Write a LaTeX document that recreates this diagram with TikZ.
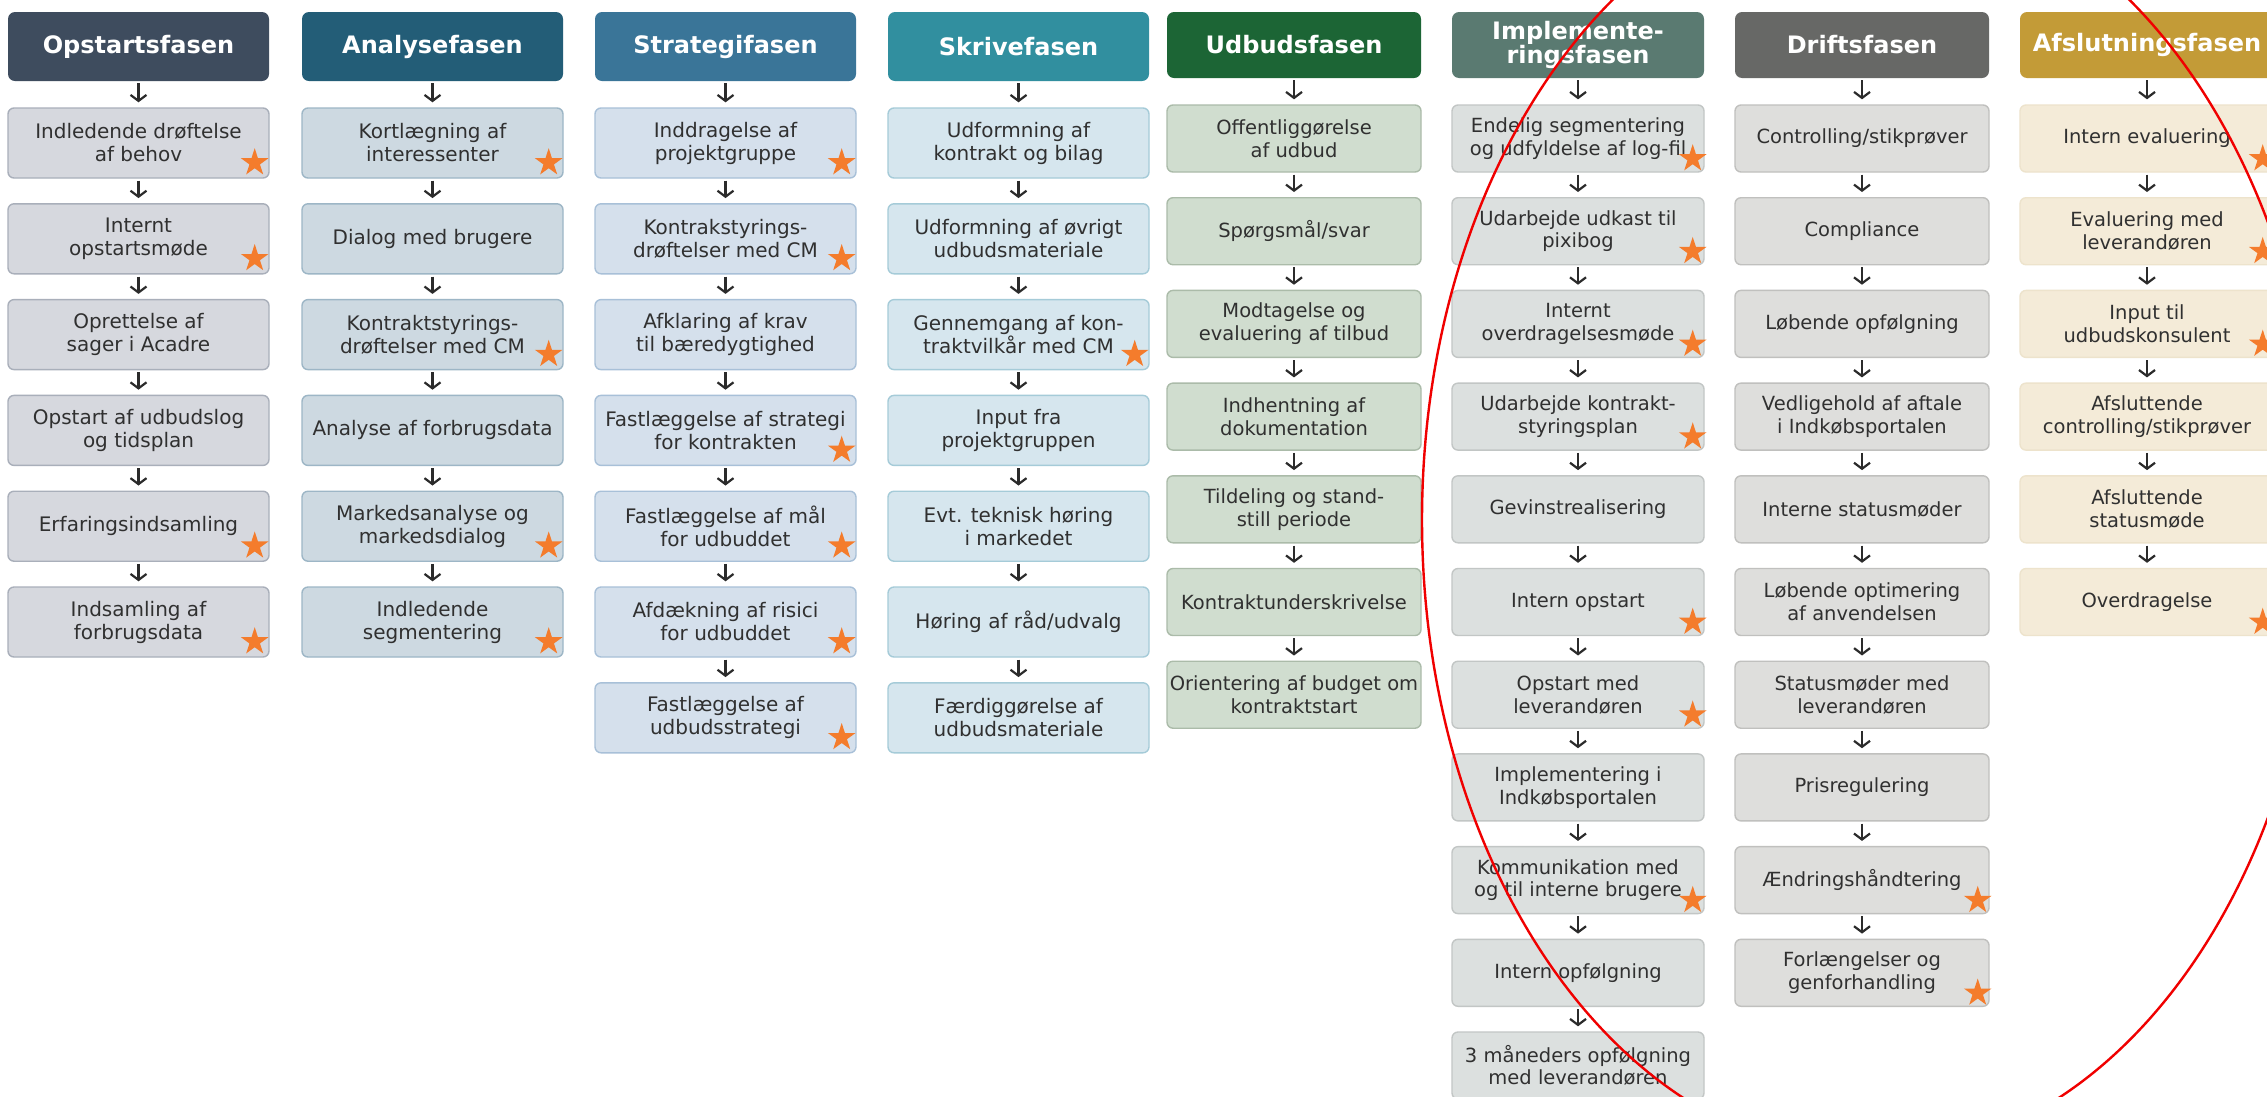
\documentclass[tikz,border=0pt]{standalone}
\usepackage{fontspec}
\setmainfont{DejaVu Sans}
\usetikzlibrary{shapes.geometric,arrows.meta}

% phase colours: H = header, F = box fill, B = box border
\definecolor{c1H}{HTML}{3E4C5E}\definecolor{c1F}{HTML}{D6D8DE}\definecolor{c1B}{HTML}{A9AFBA}
\definecolor{c2H}{HTML}{235D77}\definecolor{c2F}{HTML}{CDD9E1}\definecolor{c2B}{HTML}{9DB6C6}
\definecolor{c3H}{HTML}{3A7598}\definecolor{c3F}{HTML}{D5E0EC}\definecolor{c3B}{HTML}{A8C0D8}
\definecolor{c4H}{HTML}{318F9F}\definecolor{c4F}{HTML}{D6E6EE}\definecolor{c4B}{HTML}{A5CBD8}
\definecolor{c5H}{HTML}{1C6535}\definecolor{c5F}{HTML}{D0DDCF}\definecolor{c5B}{HTML}{ABBBA9}
\definecolor{c6H}{HTML}{5A7A71}\definecolor{c6F}{HTML}{DCE0DF}\definecolor{c6B}{HTML}{C2C6C5}
\definecolor{c7H}{HTML}{676866}\definecolor{c7F}{HTML}{DEDEDC}\definecolor{c7B}{HTML}{C0C0BE}
\definecolor{c8H}{HTML}{C39B37}\definecolor{c8F}{HTML}{F4EBD8}\definecolor{c8B}{HTML}{EDE3CC}
\definecolor{arrowc}{HTML}{2B2B2B}
\definecolor{txtc}{HTML}{303030}
\definecolor{starc}{HTML}{F47C2C}
\definecolor{ringc}{HTML}{F00000}

\tikzset{
  hdr/.style={rounded corners=7pt, text=white, align=center, inner sep=0pt,
    font=\bfseries\fontsize{24}{23}\selectfont},
  stepbox/.style={rounded corners=6pt, line width=1.4pt, text=txtc, align=center,
    inner sep=0pt, font=\boxfont},
  conn/.style={draw=arrowc, line width=2.2pt, shorten <=2pt, shorten >=5pt,
    -{Straight Barb[length=6pt,width=16pt]}},
  starmark/.style={star, star points=5, star point ratio=2.618, fill=starc,
    draw=none, minimum size=29pt, inner sep=0pt},
}

% one phase column: header, boxes and the arrows between them
% #1 prefix, #2 centre x, #3 width, #4 colour prefix, #5 header text, #6 items
\newcommand\phasecol[6]{%
  \node[hdr, fill=#4H, minimum width=#3, minimum height=\hdrh] (#1h) at (#2,\hdry) {#5};
  \foreach \txt [count=\i] in {#6} {%
    \node[stepbox, fill=#4F, draw=#4B, minimum width=#3, minimum height=\boxh]
      (#1b\i) at (#2,{\boxy+(\i-1)*\boxpitch}) {\txt};
    \pgfmathtruncatemacro\prv{\i-1}%
    \ifnum\i=1 \draw[conn] (#1h.south) -- (#1b1.north);%
    \else \draw[conn] (#1b\prv.south) -- (#1b\i.north);\fi
  }%
}

\begin{document}
\begin{tikzpicture}[x=1pt,y=-1pt]
\useasboundingbox (0,0) rectangle (2267,1096);
\clip (0,0) rectangle (2267,1096);
\fill[white] (0,0) rectangle (2267,1096);

% ---- left group of phases
\def\hdry{46.5}\def\hdrh{69pt}\def\boxy{143}\def\boxh{70pt}\def\boxpitch{95.8}
\def\boxfont{\fontsize{20}{23}\selectfont}

\phasecol{c1}{138.5}{261pt}{c1}{Opstartsfasen}{%
  {Indledende drøftelse\\af behov},{Internt\\opstartsmøde},{Oprettelse af\\sager i Acadre},
  {Opstart af udbudslog\\og tidsplan},{Erfaringsindsamling},{Indsamling af\\forbrugsdata}}

\phasecol{c2}{432.5}{261pt}{c2}{Analysefasen}{%
  {Kortlægning af\\interessenter},{Dialog med brugere},{Kontraktstyrings-\\drøftelser med CM},
  {Analyse af forbrugsdata},{Markedsanalyse og\\markedsdialog},{Indledende\\segmentering}}

\phasecol{c3}{725.5}{261pt}{c3}{Strategifasen}{%
  {Inddragelse af\\projektgruppe},{Kontrakstyrings-\\drøftelser med CM},
  {Afklaring af krav\\til bæredygtighed},{Fastlæggelse af strategi\\for kontrakten},
  {Fastlæggelse af mål\\for udbuddet},{Afdækning af risici\\for udbuddet},
  {Fastlæggelse af\\udbudsstrategi}}

\phasecol{c4}{1018.5}{261pt}{c4}{Skrivefasen}{%
  {Udformning af\\kontrakt og bilag},{Udformning af øvrigt\\udbudsmateriale},
  {Gennemgang af kon-\\traktvilkår med CM},{Input fra\\projektgruppen},
  {Evt. teknisk høring\\i markedet},{Høring af råd/udvalg},{Færdiggørelse af\\udbudsmateriale}}

\foreach \n in {c1b1,c1b2,c1b5,c1b6,c2b1,c2b3,c2b5,c2b6,c3b1,c3b2,c3b4,c3b5,c3b6,c3b7,c4b3}
  \node[starmark] (\n-st) at ([xshift=-15pt,yshift=16pt]\n.south east) {};

% ---- right group of phases
\def\hdry{45}\def\hdrh{66pt}\def\boxy{138.5}\def\boxh{67pt}\def\boxpitch{92.7}
\def\boxfont{\fontsize{19.5}{22.7}\selectfont}

\phasecol{c5}{1294}{254pt}{c5}{Udbudsfasen}{%
  {Offentliggørelse\\af udbud},{Spørgsmål/svar},{Modtagelse og\\evaluering af tilbud},
  {Indhentning af\\dokumentation},{Tildeling og stand-\\still periode},
  {Kontraktunderskrivelse},{Orientering af budget om\\kontraktstart}}

\phasecol{c6}{1578}{252pt}{c6}{Implemente-\\ringsfasen}{%
  {Endelig segmentering\\og udfyldelse af log-fil},{Udarbejde udkast til\\pixibog},
  {Internt\\overdragelsesmøde},{Udarbejde kontrakt-\\styringsplan},{Gevinstrealisering},
  {Intern opstart},{Opstart med\\leverandøren},{Implementering i\\Indkøbsportalen},
  {Kommunikation med\\og til interne brugere},{Intern opfølgning},
  {3 måneders opfølgning\\med leverandøren}}

\phasecol{c7}{1862}{254pt}{c7}{Driftsfasen}{%
  {Controlling/stikprøver},{Compliance},{Løbende opfølgning},
  {Vedligehold af aftale\\i Indkøbsportalen},{Interne statusmøder},
  {Løbende optimering\\af anvendelsen},{Statusmøder med\\leverandøren},{Prisregulering},
  {Ændringshåndtering},{Forlængelser og\\genforhandling}}

\phasecol{c8}{2147}{254pt}{c8}{Afslutningsfasen}{%
  {Intern evaluering},{Evaluering med\\leverandøren},{Input til\\udbudskonsulent},
  {Afsluttende\\controlling/stikprøver},{Afsluttende\\statusmøde},{Overdragelse}}

\foreach \n in {c6b1,c6b2,c6b3,c6b4,c6b6,c6b7,c6b9,c7b9,c7b10,c8b1,c8b2,c8b3,c8b6}
  \node[starmark] (\n-st) at ([xshift=-12pt,yshift=14pt]\n.south east) {};

% hand-drawn red ring around the later phases
\draw[ringc, line width=2.4pt] (1871,520) ellipse [x radius=449pt, y radius=636pt];
\end{tikzpicture}
\end{document}
